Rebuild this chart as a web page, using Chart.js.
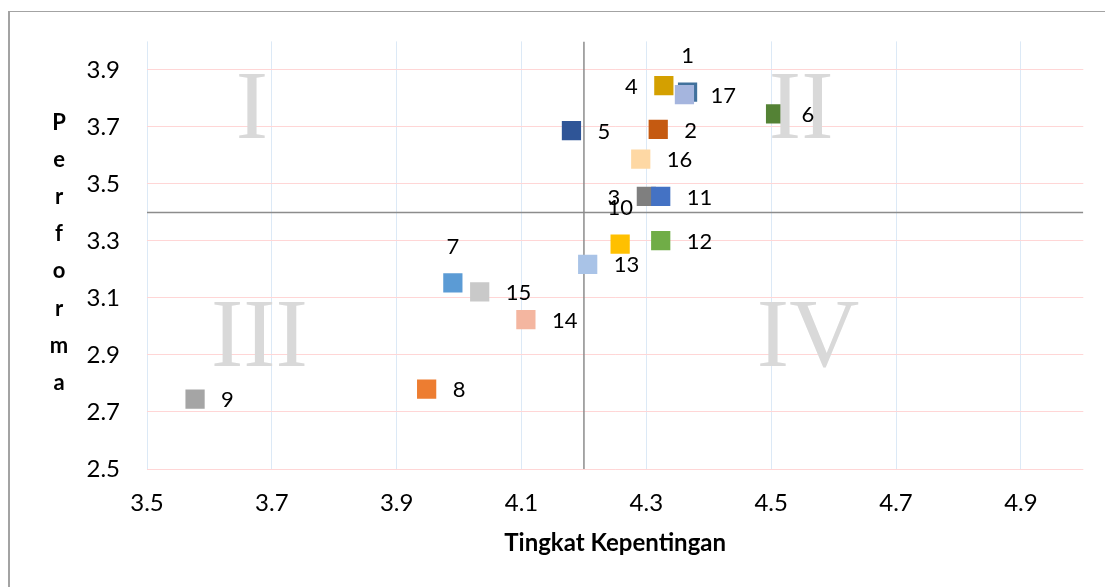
<!DOCTYPE html>
<html>
<head>
<meta charset="utf-8">
<script src="https://cdn.jsdelivr.net/npm/chart.js"></script>
<style>
  body { margin: 0; background: #fff; }
  #wrap { width: 1105px; height: 587px; }
</style>
</head>
<body>
<div id="wrap"><canvas id="ipaChart" width="1105" height="587"></canvas></div>
<script>
// atribut 1..17
var pointIds = ['1', '2', '3', '4', '5', '6', '7', '8', '9', '10', '11', '12', '13', '14', '15', '16', '17'];
var kepentingan = [4.366, 4.319, 4.300, 4.328, 4.180, 4.507, 3.990, 3.948, 3.577, 4.258, 4.323, 4.323, 4.206, 4.107, 4.033, 4.291, 4.361];
var performa = [3.822, 3.691, 3.456, 3.845, 3.687, 3.746, 3.153, 2.780, 2.745, 3.289, 3.456, 3.301, 3.218, 3.024, 3.121, 3.587, 3.813];
var warna = ['#41719c', '#c55a11', '#7f7f7f', '#d4a000', '#2f5597', '#548235', '#5b9bd5', '#ed7d31', '#a5a5a5',
             '#ffc000', '#4472c4', '#70ad47', '#a9c3e7', '#f4b6a0', '#c9c9c9', '#fed8a4', '#a5b5de'];

var xTicks = [3.5, 3.7, 3.9, 4.1, 4.3, 4.5, 4.7, 4.9];
var yTicks = [2.5, 2.7, 2.9, 3.1, 3.3, 3.5, 3.7, 3.9];

// garis kuadran (rata-rata)
var rataX = 4.2;
var rataY = 3.4;

var kuadran = ['I', 'II', 'III', 'IV'];

// where the number goes relative to its marker (default right)
var labelSide = { '1': 'above', '3': 'left', '4': 'left', '7': 'above', '10': 'above' };

var points = [];
for (var i = 0; i < pointIds.length; i++) {
    points.push({ x: kepentingan[i], y: performa[i] });
}

var overlayPlugin = {
    id: 'overlay',
    beforeDraw: function (chart) {
        var ctx = chart.ctx;
        ctx.save();
        ctx.fillStyle = '#a3a3a3';
        ctx.fillRect(8, 11, 2, 576);
        ctx.fillRect(8, 11, 1097, 1);
        ctx.restore();
    },
    afterDatasetsDraw: function (chart) {
        var ctx = chart.ctx;
        var xs = chart.scales.x, ys = chart.scales.y;
        ctx.save();
        // big roman numerals, in data units (x, baseline y)
        var spots = [[3.668, 3.661], [4.548, 3.661], [3.680, 2.863], [4.559, 2.863]];
        ctx.font = '97px "Liberation Serif"';
        ctx.fillStyle = '#d9d9d9';
        ctx.textAlign = 'center';
        ctx.textBaseline = 'alphabetic';
        kuadran.forEach(function (k, j) {
            ctx.fillText(k, xs.getPixelForValue(spots[j][0]), ys.getPixelForValue(spots[j][1]));
        });

        var meta = chart.getDatasetMeta(0);
        ctx.font = '22px Lato';
        ctx.fillStyle = '#000';
        ctx.textBaseline = 'middle';
        meta.data.forEach(function (pt, j) {
            var side = labelSide[pointIds[j]] || 'right';
            if (side === 'left') {
                ctx.textAlign = 'right';
                ctx.fillText(pointIds[j], pt.x - 26, pt.y + 1);
            } else if (side === 'above') {
                ctx.textAlign = 'center';
                ctx.fillText(pointIds[j], pt.x, pt.y - 36);
            } else {
                ctx.textAlign = 'left';
                ctx.fillText(pointIds[j], pt.x + 26, pt.y + 1);
            }
        });
        ctx.restore();
    },
    afterDraw: function (chart) {
        // y axis title, one letter per line
        var ctx = chart.ctx;
        var letters = 'Performa'.split('');
        ctx.save();
        ctx.font = 'bold 22px Lato';
        ctx.fillStyle = '#000';
        ctx.textAlign = 'center';
        ctx.textBaseline = 'alphabetic';
        letters.forEach(function (c, j) {
            ctx.fillText(c, 59, 130 + j * 37.1);
        });
        ctx.restore();
    }
};

var ctx = document.getElementById('ipaChart').getContext('2d');
var chart = new Chart(ctx, {
    type: 'scatter',
    data: {
        datasets: [{
            label: 'Atribut',
            data: points,
            pointStyle: 'rect',
            pointRadius: 13.6,
            pointHoverRadius: 13.6,
            pointBackgroundColor: warna,
            pointBorderColor: warna,
            pointBorderWidth: 0
        }, {
            type: 'line',
            label: 'rata X',
            data: [{ x: rataX, y: 2.5 }, { x: rataX, y: 4.0 }],
            borderColor: '#8c8c8c',
            borderWidth: 1.5,
            pointRadius: 0
        }, {
            type: 'line',
            label: 'rata Y',
            data: [{ x: 3.5, y: rataY }, { x: 5.0, y: rataY }],
            borderColor: '#8c8c8c',
            borderWidth: 1.5,
            pointRadius: 0
        }]
    },
    options: {
        responsive: false,
        animation: false,
        devicePixelRatio: 1,
        layout: { padding: { top: 40.7, right: 21.7, left: 0, bottom: 0 } },
        plugins: {
            legend: { display: false },
            tooltip: { enabled: false }
        },
        scales: {
            x: {
                type: 'linear',
                min: 3.5,
                max: 5.0,
                afterBuildTicks: function (s) {
                    s.ticks = xTicks.map(function (v) { return { value: v }; });
                },
                afterFit: function (s) { s.height = 118; },
                ticks: {
                    callback: function (v) { return Number(v).toFixed(1); },
                    font: { family: 'Lato', size: 24 },
                    color: '#000',
                    padding: 20,
                    maxRotation: 0,
                    autoSkip: false
                },
                grid: { color: '#dce9f6', drawTicks: false },
                border: { display: false },
                title: {
                    display: true,
                    text: 'Tingkat Kepentingan',
                    font: { family: 'Lato', size: 24, weight: 'bold' },
                    color: '#000',
                    padding: { top: 0, bottom: 29 }
                }
            },
            y: {
                type: 'linear',
                min: 2.5,
                max: 4.0,
                afterBuildTicks: function (s) {
                    s.ticks = yTicks.map(function (v) { return { value: v }; });
                },
                afterFit: function (s) { s.width = 147; },
                ticks: {
                    callback: function (v) { return Number(v).toFixed(1); },
                    font: { family: 'Lato', size: 24 },
                    color: '#000',
                    padding: 27,
                    autoSkip: false
                },
                grid: { color: '#ffd6d6', drawTicks: false },
                border: { display: false }
            }
        }
    },
    plugins: [overlayPlugin]
});
</script>
</body>
</html>
